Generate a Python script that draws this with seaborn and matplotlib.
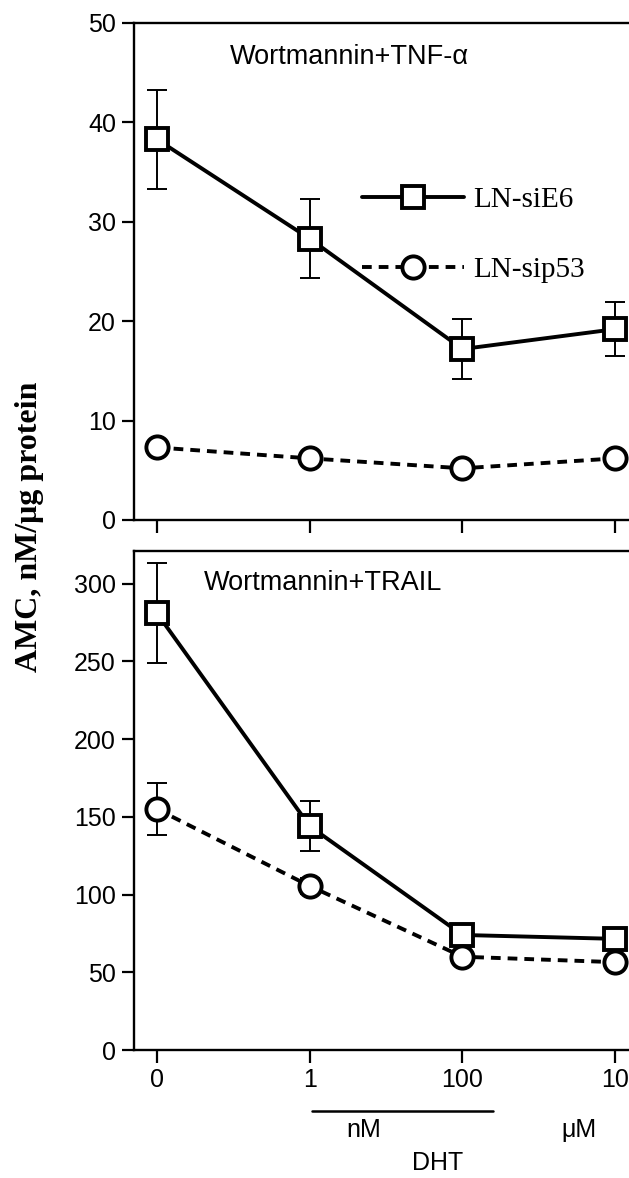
import numpy as np
import pandas as pd
import matplotlib
matplotlib.use("Agg")
import matplotlib.pyplot as plt
import seaborn as sns
from matplotlib.lines import Line2D

# ---- data ----
positions = [0, 1, 2, 3]
dose_labels = ["0", "1", "100", "10"]
series_names = ["LN-siE6", "LN-sip53"]

tnf_siE6 = [38.3, 28.3, 17.2, 19.2]
tnf_siE6_err = [5.0, 4.0, 3.0, 2.7]
tnf_sip53 = [7.3, 6.2, 5.2, 6.2]
tnf_sip53_err = [0.5, 0.5, 0.5, 0.5]

trail_siE6 = [281, 144, 74, 71.5]
trail_siE6_err = [32, 16, 5, 4]
trail_sip53 = [155, 105.5, 60, 56.5]
trail_sip53_err = [17, 5, 4, 3]

sns.set_style("ticks")
plt.rcParams['font.family'] = ['Liberation Sans', 'DejaVu Sans']
plt.rcParams['text.color'] = 'black'

W, H = 629, 1178
fig = plt.figure(figsize=(W / 100, H / 100), dpi=100)

def px_axes(left, top, right, bottom):
    return fig.add_axes([left / W, (H - bottom) / H, (right - left) / W, (bottom - top) / H])

ax1 = px_axes(134, 23, 629, 520)
ax2 = px_axes(134, 551, 629, 1050)

LW = 2.8
MS = 16
DASH = (2.5, 1.8)

def draw(ax, e6, e6err, p53, p53err):
    df = pd.DataFrame({
        "pos": positions * 2,
        "val": list(e6) + list(p53),
        "series": [series_names[0]] * 4 + [series_names[1]] * 4,
    })
    ax.errorbar(positions, e6, yerr=e6err, fmt="none", ecolor="black",
                elinewidth=1.4, capsize=7, capthick=1.4, zorder=1)
    ax.errorbar(positions, p53, yerr=p53err, fmt="none", ecolor="black",
                elinewidth=1.4, capsize=7, capthick=1.4, zorder=1)
    sns.lineplot(data=df, x="pos", y="val", style="series",
                 markers={series_names[0]: "s", series_names[1]: "o"},
                 dashes={series_names[0]: "", series_names[1]: DASH},
                 color="black", lw=LW, markersize=MS,
                 markerfacecolor="white", markeredgecolor="black",
                 markeredgewidth=LW, legend=False, ax=ax, zorder=3)
    ax.set_xlim(-0.15, 3.09)
    ax.set_xticks(positions)
    ax.set_xlabel("")
    ax.set_ylabel("")
    ax.spines["right"].set_visible(False)
    for s in ["left", "top", "bottom"]:
        ax.spines[s].set_linewidth(1.7)
        ax.spines[s].set_color("black")
    ax.tick_params(axis="both", direction="out", length=9, width=1.6,
                   labelsize=18, pad=4, colors="black")

draw(ax1, tnf_siE6, tnf_siE6_err, tnf_sip53, tnf_sip53_err)
draw(ax2, trail_siE6, trail_siE6_err, trail_sip53, trail_sip53_err)

ax1.set_ylim(0, 50)
ax1.set_yticks([0, 10, 20, 30, 40, 50])
ax1.set_xticklabels([])

ax2.set_ylim(0, 321)
ax2.set_yticks([0, 50, 100, 150, 200, 250, 300])
ax2.set_xticklabels(dose_labels)

ax1.text(1.26, 46.6, "Wortmannin+TNF-\u03b1", ha="center", va="center", fontsize=19.5)
ax2.text(1.09, 300.7, "Wortmannin+TRAIL", ha="center", va="center", fontsize=19.5)

# legend
handles = [
    Line2D([], [], color="black", lw=LW, marker="s", markersize=MS,
           markerfacecolor="white", markeredgecolor="black", markeredgewidth=LW),
    Line2D([], [], color="black", lw=LW, ls=(0, DASH), marker="o", markersize=MS,
           markerfacecolor="white", markeredgecolor="black", markeredgewidth=LW),
]
ax1.legend(handles, series_names, loc="upper left", bbox_to_anchor=(0.4606, 0.671),
           frameon=False, handlelength=3.5, handletextpad=0.3, labelspacing=1.5,
           borderpad=0, borderaxespad=0,
           prop={"family": "Liberation Serif", "size": 21})

# x-axis unit annotations
tr = ax2.get_xaxis_transform()
ax2.add_line(Line2D([1.015, 2.2], [-0.122, -0.122], transform=tr, color="black",
                    lw=1.8, clip_on=False))
ax2.text(1.356, -0.160, "nM", transform=tr, ha="center", va="center", fontsize=18)
ax2.text(2.76, -0.160, "\u03bcM", transform=tr, ha="center", va="center", fontsize=18)
ax2.text(1.84, -0.226, "DHT", transform=tr, ha="center", va="center", fontsize=18)

fig.text(30 / W, 1 - 527 / H, "AMC, nM/\u03bcg protein", rotation=90, ha="center",
         va="center", fontsize=23, fontweight="bold", family="Liberation Serif")

fig.savefig("out.png", dpi=100)
